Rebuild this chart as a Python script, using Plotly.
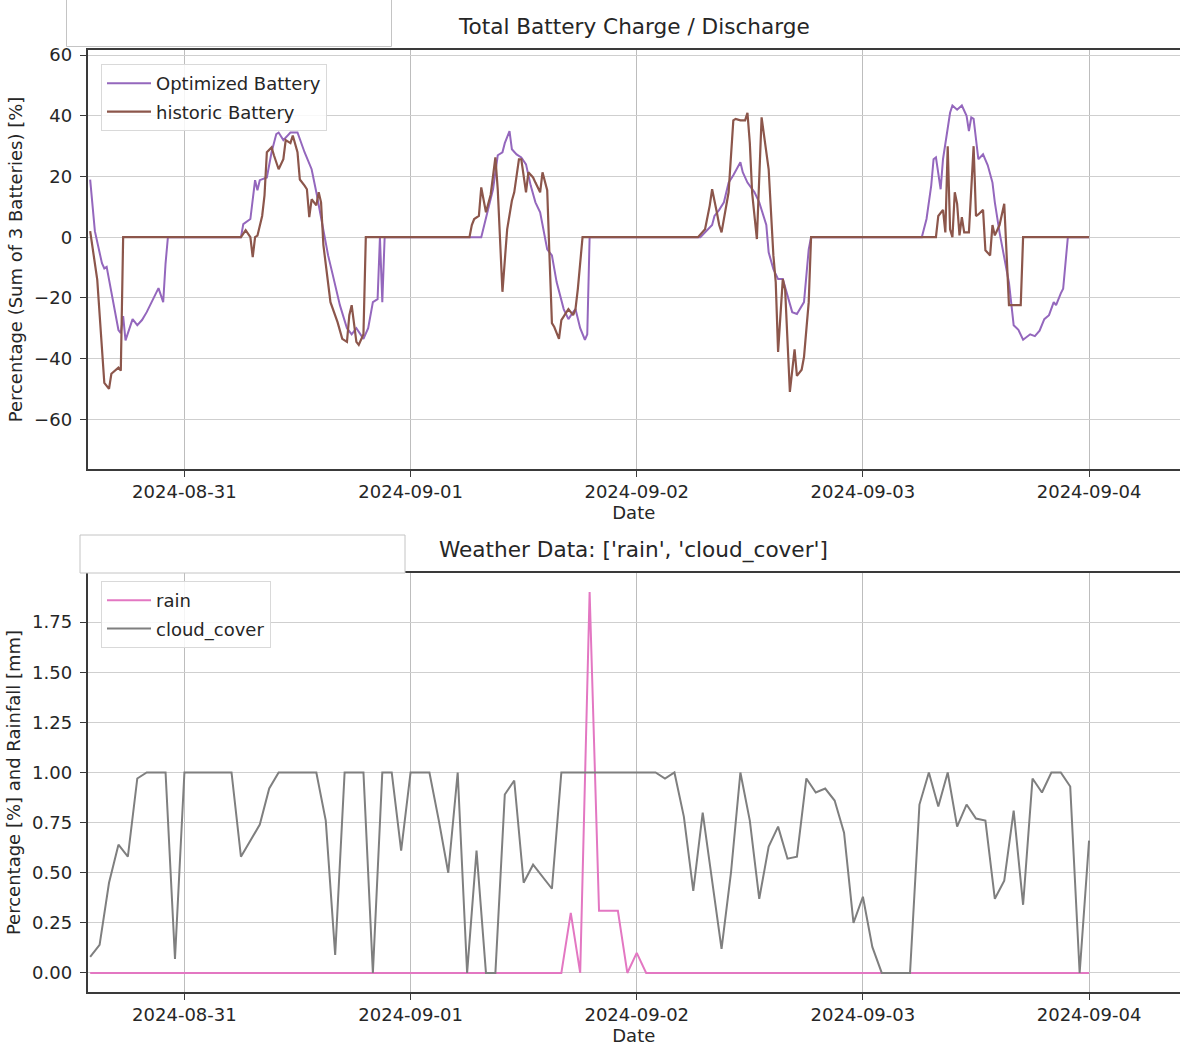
import pandas as pd
import plotly.graph_objects as go

# ---------------- data ----------------
START = pd.Timestamp("2024-08-30 14:00")

# Battery: hours after START and summed charge/discharge percentage
opt_hours = [0, 0.5, 1.25, 1.5, 1.75, 2.25, 3.0, 3.25, 3.5, 3.75, 4.5, 5.0, 5.5, 6.0, 6.5, 7.25, 7.75, 8.0, 8.25,
             16.0, 16.25, 17.0, 17.5, 17.75, 18.0, 18.75, 19.25, 19.75, 20.0, 20.5, 21.25, 22.0, 22.75, 23.5, 24.0,
             24.75, 25.25, 25.75, 26.5, 27.25, 27.75, 28.25, 29.0, 29.5, 30.0, 30.5, 30.75, 31.0, 31.25,
             41.5, 42.0, 42.75, 43.25, 43.75, 44.0, 44.5, 44.75, 45.25, 45.75, 46.25, 46.75, 47.25, 47.75, 48.5,
             49.0, 49.5, 50.25, 50.75, 51.25, 51.5, 52.0, 52.5, 52.75, 53.0,
             64.75, 65.25, 66.0, 66.25, 66.75, 67.25, 67.75, 68.25, 69.0, 69.25, 69.75, 70.5, 71.0, 71.75, 72.0,
             72.5, 73.0, 73.5, 74.0, 74.5, 75.0, 75.75, 76.25, 76.5,
             88.25, 88.75, 89.25, 89.5, 89.75, 90.25, 90.5, 91.25, 91.5, 92.0, 92.5, 93.0, 93.25, 93.5, 93.75,
             94.25, 94.75, 95.25, 95.75, 96.0, 96.5, 97.0, 97.5, 98.0, 98.5, 99.0, 99.75, 100.25, 100.75, 101.25,
             101.75, 102.25, 102.5, 103.0, 103.25, 103.75, 106.0]
opt_pct = [19, 2, -8.6, -10.3, -9.8, -18.5, -30.6, -31.6, -26, -34, -27, -29, -27.3, -24.7, -21.4, -16.8, -21.4, -8.6, 0,
           0, 4.3, 6, 18.8, 15.5, 18.8, 19.7, 28, 34, 34.5, 32, 34.5, 34.5, 28, 22.4, 14.8,
           2.6, -6, -12.5, -22.4, -30, -32, -30, -33.5, -30, -21.4, -20.4, 0, -21.4, 0,
           0, 6, 15.8, 27, 28, 31, 35, 29, 27.3, 26.3, 24, 17, 11.5, 8.2, -4,
           -6, -14.8, -23.7, -27, -24.7, -23.7, -30, -33.8, -32, 0,
           0, 1.6, 4, 7, 9, 11.5, 18, 20.4, 24.7, 21.4, 18, 14.8, 11.5, 4, -5,
           -10.5, -13.8, -13.8, -19, -24.7, -25.3, -21.4, -4, 0,
           0, 6, 17, 25.7, 26.3, 15.8, 25.7, 41, 43.4, 42, 43.4, 40, 35, 39.5, 39,
           25.7, 27.3, 23.7, 18, 11.5, 1.6, -7, -15, -29, -30.5, -33.8, -32, -32.6, -30.8, -27,
           -25.7, -21.4, -22.4, -18.5, -17, 0, 0]

hist_hours = [0, 0.75, 1.5, 2.0, 2.25, 3.0, 3.25, 3.5,
              16.0, 16.5, 17.0, 17.25, 17.5, 17.75, 18.25, 18.5, 18.75, 19.25, 19.5, 20.0, 20.5, 20.75, 21.25,
              21.5, 22.0, 22.25, 22.75, 23.0, 23.25, 23.5, 24.0, 24.25, 24.5, 24.75, 25.5, 26.25, 26.75, 27.25,
              27.5, 27.75, 28.25, 28.5, 29.0, 29.25,
              40.25, 40.5, 40.75, 41.25, 41.5, 42.0, 42.5, 43.0, 43.25, 43.75, 44.25, 44.75, 45.0, 45.5, 45.75,
              46.25, 46.5, 47.0, 47.25, 47.75, 48.0, 48.5, 48.75, 49.0, 49.25, 49.75, 50.0, 50.5, 50.75, 51.25,
              51.5, 51.75, 52.25,
              64.5, 65.25, 65.75, 66.0, 66.5, 66.75, 67.0, 67.75, 68.25, 68.5, 69.0, 69.5, 69.75, 70.0, 70.25,
              70.75, 71.25, 71.75, 72.0, 72.5, 72.75, 73.0, 73.5, 73.75, 74.25, 74.75, 75.0, 75.5, 75.75, 76.25,
              76.5,
              89.75, 90.0, 90.5, 90.75, 91.0, 91.25, 91.5, 91.75, 92.0, 92.25, 92.5, 92.75, 93.25, 93.75, 94.0,
              94.25, 94.75, 95.0, 95.5, 95.75, 96.0, 96.5, 97.0, 97.25, 97.5, 98.25, 98.75, 99.0, 106.0]
hist_pct = [2, -14, -48, -50, -45, -43, -44, 0,
            0, 2.3, 0, -6.6, 0, 0.5, 7, 13.8, 28, 29.6, 27, 22.4, 25.7, 32, 31,
            33.5, 28, 19, 17, 15.8, 6.6, 12.5, 10.5, 14.8, 11.5, -2.6, -21.4, -28, -33.5, -34.5,
            -25.7, -22.4, -34.5, -35.5, -32, 0,
            0, 4, 6, 7, 16.4, 8.2, 14, 26.3, 15.8, -18, 2.6, 12, 14.8, 25.7, 25.7,
            14.8, 21.4, 19.7, 18, 14.8, 21.4, 15.5, -7, -28.3, -29.6, -33.5, -27.3, -24.7, -23.7, -25.7,
            -23.7, -17, 0,
            0, 2.6, 10.5, 15.8, 8.2, 4, 1.6, 14.8, 38.5, 39, 38.5, 38.5, 41, 31, 14.5,
            -0.6, 39.5, 28, 22.4, -6, -14.8, -37.8, -13.8, -17.4, -51, -37, -45.7, -43.7, -39.5, -21.4,
            0,
            0, 7, 9, 1.6, 30, 2.6, 0, 14.8, 11, 0.6, 6.6, 1.6, 1.6, 30, 7,
            7.5, 9, -4.3, -6, 4, 0.6, 4, 11, -8.6, -22.4, -22.4, -22.4, 0, 0]

# Weather: hourly values from START
cloud_cover = [0.08, 0.14, 0.45, 0.64, 0.58, 0.97, 1.0, 1.0, 1.0, 0.07,
               1.0, 1.0, 1.0, 1.0, 1.0, 1.0, 0.58, 0.66, 0.74, 0.92,
               1.0, 1.0, 1.0, 1.0, 1.0, 0.76, 0.09, 1.0, 1.0, 1.0,
               0.0, 1.0, 1.0, 0.61, 1.0, 1.0, 1.0, 0.76, 0.5, 1.0,
               0.0, 0.61, 0.0, 0.0, 0.89, 0.96, 0.45, 0.54, 0.48, 0.42,
               1.0, 1.0, 1.0, 1.0, 1.0, 1.0, 1.0, 1.0, 1.0, 1.0,
               1.0, 0.97, 1.0, 0.78, 0.41, 0.80, 0.45, 0.12, 0.5, 1.0,
               0.76, 0.37, 0.63, 0.73, 0.57, 0.58, 0.97, 0.90, 0.92, 0.86,
               0.70, 0.25, 0.38, 0.13, 0.0, 0.0, 0.0, 0.0, 0.84, 1.0,
               0.83, 1.0, 0.73, 0.84, 0.77, 0.76, 0.37, 0.46, 0.81, 0.34,
               0.97, 0.90, 1.0, 1.0, 0.93, 0.0, 0.66]
rain = [0.0] * 51 + [0.30, 0.0, 1.90, 0.31, 0.31, 0.31, 0.0, 0.10] + [0.0] * 48

x_ticks = ["2024-08-31", "2024-09-01", "2024-09-02", "2024-09-03", "2024-09-04"]
batt_ticks = [-60, -40, -20, 0, 20, 40, 60]
weather_ticks = [0.0, 0.25, 0.5, 0.75, 1.0, 1.25, 1.5, 1.75]

# ---------------- figure ----------------
def to_time(hours):
    return [START + pd.Timedelta(hours=h) for h in hours]

weather_time = to_time(range(len(cloud_cover)))

FONT = "DejaVu Sans"
TXT = "#262626"
W, H = 1180, 1050

fig = go.Figure()
fig.add_trace(go.Scatter(x=to_time(opt_hours), y=opt_pct, mode="lines", name="Optimized Battery",
                         line=dict(color="#9467bd", width=2), xaxis="x", yaxis="y",
                         legend="legend", legendgroup="opt"))
fig.add_trace(go.Scatter(x=to_time(hist_hours), y=hist_pct, mode="lines", name="historic Battery",
                         line=dict(color="#8c564b", width=2.2), xaxis="x", yaxis="y",
                         legend="legend", legendgroup="hist"))
fig.add_trace(go.Scatter(x=weather_time, y=rain, mode="lines", name="rain",
                         line=dict(color="#e377c2", width=2), xaxis="x2", yaxis="y2",
                         legend="legend2", legendgroup="rain"))
fig.add_trace(go.Scatter(x=weather_time, y=cloud_cover, mode="lines", name="cloud_cover",
                         line=dict(color="#7f7f7f", width=2), xaxis="x2", yaxis="y2",
                         legend="legend2", legendgroup="cloud"))

x_left = pd.Timestamp("2024-08-30 13:43")
x_right = pd.Timestamp("2024-09-04 09:39")

def px_y(py):
    return 1 - py / H

xdom = [87.5 / W, 1.0]
top_dom = [px_y(469), px_y(50)]
bot_dom = [px_y(992), px_y(573)]

common_x = dict(
    range=[x_left, x_right], tickvals=x_ticks, ticktext=x_ticks,
    showgrid=True, gridcolor="#bdbdbd", gridwidth=1,
    showline=True, linecolor="#3a3a3a", linewidth=1.6, mirror=True,
    ticks="outside", ticklen=6, tickcolor="#3a3a3a", ticklabelstandoff=0,
    tickfont=dict(family=FONT, size=18, color=TXT),
    title=dict(text="Date", font=dict(family=FONT, size=18, color=TXT), standoff=3),
    zeroline=False, domain=xdom, automargin=False,
)
common_y = dict(
    showgrid=True, gridcolor="#cfcfcf", gridwidth=1.2,
    showline=True, linecolor="#3a3a3a", linewidth=1.6, mirror=False,
    ticks="outside", ticklen=6, tickcolor="#3a3a3a", ticklabelstandoff=4,
    tickfont=dict(family=FONT, size=18, color=TXT),
    zeroline=False, automargin=False,
)
legend_style = dict(xanchor="left", yanchor="top",
                    bgcolor="rgba(255,255,255,0.85)", bordercolor="#d9d9d9", borderwidth=1,
                    font=dict(family=FONT, size=18, color=TXT), tracegroupgap=2, itemwidth=44)

fig.update_layout(
    width=W, height=H,
    margin=dict(l=0, r=0, t=0, b=0, autoexpand=False),
    paper_bgcolor="white", plot_bgcolor="white",
    font=dict(family=FONT, size=18, color=TXT),
    xaxis=dict(common_x, anchor="y"),
    yaxis=dict(common_y, domain=top_dom, anchor="x", range=[-76.4, 61.7],
               tickvals=batt_ticks, ticktext=[str(v).replace("-", "\u2212") for v in batt_ticks],
               title=dict(text="Percentage (Sum of 3 Batteries) [%]",
                          font=dict(family=FONT, size=18, color=TXT), standoff=7)),
    xaxis2=dict(common_x, anchor="y2"),
    yaxis2=dict(common_y, domain=bot_dom, anchor="x2", range=[-0.095, 1.995],
                tickvals=weather_ticks, ticktext=[f"{v:.2f}" for v in weather_ticks],
                title=dict(text="Percentage [%] and Rainfall [mm]",
                           font=dict(family=FONT, size=18, color=TXT), standoff=7)),
    legend=dict(legend_style, x=101 / W, y=px_y(64)),
    legend2=dict(legend_style, x=101 / W, y=px_y(581)),
    showlegend=True,
)

# subplot titles
fig.add_annotation(text="Total Battery Charge / Discharge", xref="paper", yref="paper",
                   x=(xdom[0] + xdom[1]) / 2, y=px_y(26), xanchor="center", yanchor="middle",
                   showarrow=False, font=dict(family=FONT, size=21.6, color=TXT))
fig.add_annotation(text="Weather Data: ['rain', 'cloud_cover']", xref="paper", yref="paper",
                   x=(xdom[0] + xdom[1]) / 2, y=px_y(550), xanchor="center", yanchor="middle",
                   showarrow=False, font=dict(family=FONT, size=21.6, color=TXT))

# empty header boxes above each panel
fig.add_shape(type="rect", xref="paper", yref="paper",
              x0=66.5 / W, x1=391.5 / W, y0=px_y(46.5), y1=px_y(-2),
              line=dict(color="#c4c4c4", width=1), fillcolor="white", layer="above")
fig.add_shape(type="rect", xref="paper", yref="paper",
              x0=80 / W, x1=405 / W, y0=px_y(573), y1=px_y(535),
              line=dict(color="#c4c4c4", width=1), fillcolor="white", layer="above")

fig.write_html("out.html")
